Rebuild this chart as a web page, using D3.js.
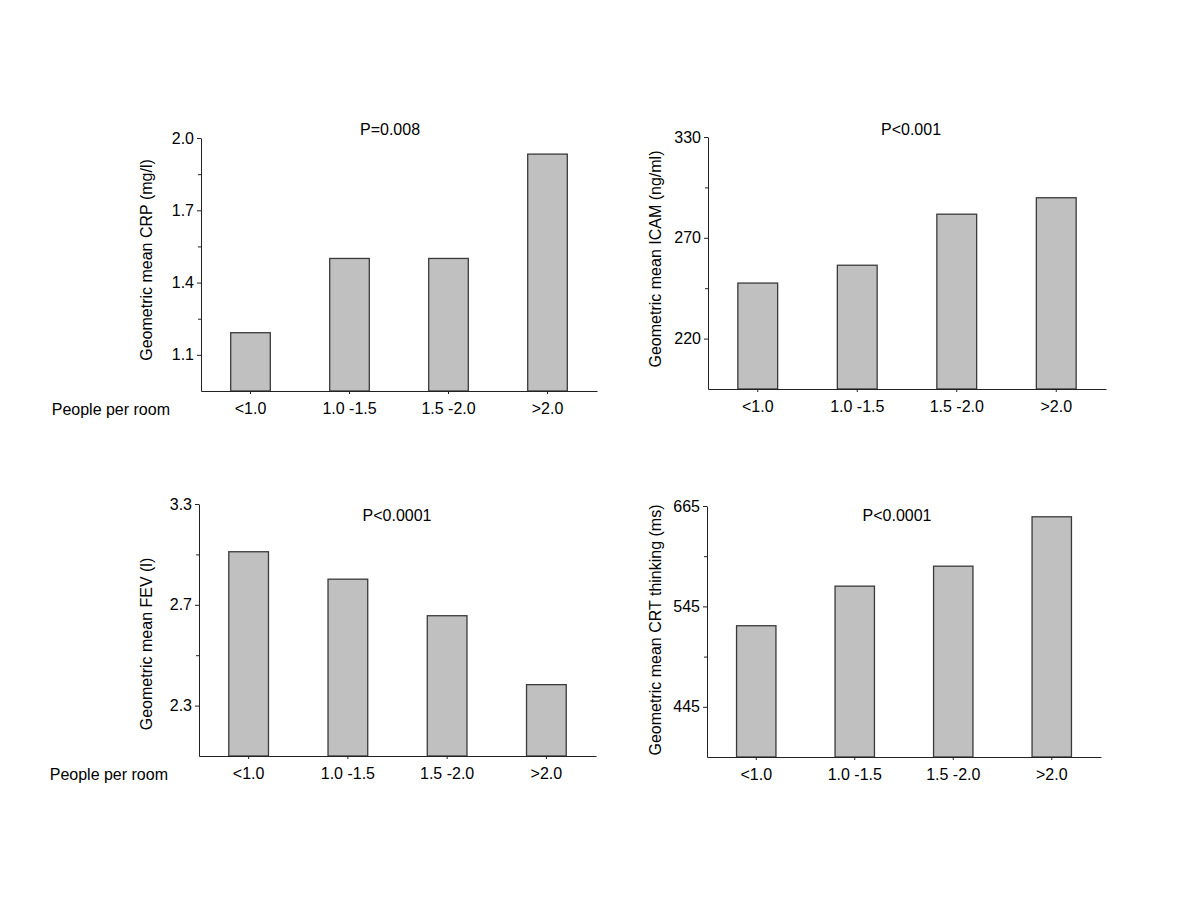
<!DOCTYPE html>
<html>
<head>
<meta charset="utf-8">
<script src="https://cdn.jsdelivr.net/npm/d3@7"></script>
<style>
  body { margin: 0; background: #fff; }
  text { font-family: "Liberation Sans", Arial, sans-serif; font-size: 16px; fill: #000; }
  .axis path, .axis line { stroke: #222; stroke-width: 1; }
  .axis text { font-family: "Liberation Sans", Arial, sans-serif; font-size: 16px; fill: #000; }
</style>
</head>
<body>
<div id="chart"></div>
<script>
// Categories shared by all four panels
const categories = ["<1.0", "1.0 -1.5", "1.5 -2.0", ">2.0"];

// Geometric means
const crpValues = [1.175, 1.443, 1.443, 1.926];
const icamValues = [247.2, 256.1, 283.4, 292.8];
const fevValues = [3.02, 2.86, 2.66, 2.32];
const crtValues = [524, 567, 590, 651];

// Y axes are log scaled; ticks sit at natural-log steps of 0.2
const crpTickLogs = [0.1, 0.3, 0.5, 0.7];
const icamTickLogs = [5.4, 5.6, 5.8];
const fevTickLogs = [0.8, 1.0, 1.2];
const crtTickLogs = [6.1, 6.3, 6.5];

const crpTickLabels = ["1.1", "1.4", "1.7", "2.0"];
const icamTickLabels = ["220", "270", "330"];
const fevTickLabels = ["2.3", "2.7", "3.3"];
const crtTickLabels = ["445", "545", "665"];

// log-domain of each y axis
const crpLogDomain = [0, 0.7];
const icamLogDomain = [5.3, 5.8];
const fevLogDomain = [0.7, 1.2];
const crtLogDomain = [6.0, 6.5];

const yTitles = [
  "Geometric mean CRP (mg/l)",
  "Geometric mean ICAM (ng/ml)",
  "Geometric mean FEV (l)",
  "Geometric mean CRT thinking (ms)"
];
const pTexts = ["P=0.008", "P<0.001", "P<0.0001", "P<0.0001"];
const xTitle = "People per room";

// Layout of each panel on the page
const layout = [
  { left: 201, top: 138, right: 597, bottom: 391, pX: 390, pY: 135, titleX: 146, titleY: 260, xTitle: true },
  { left: 708, top: 137, right: 1106, bottom: 389, pX: 911, pY: 135, titleX: 655, titleY: 259, xTitle: false },
  { left: 199, top: 504, right: 596, bottom: 756, pX: 397, pY: 521, titleX: 146, titleY: 644, xTitle: true },
  { left: 707, top: 506, right: 1101, bottom: 757, pX: 897, pY: 521, titleX: 655, titleY: 630, xTitle: false }
];

const panels = [
  { values: crpValues, logs: crpTickLogs, labels: crpTickLabels, domain: crpLogDomain },
  { values: icamValues, logs: icamTickLogs, labels: icamTickLabels, domain: icamLogDomain },
  { values: fevValues, logs: fevTickLogs, labels: fevTickLabels, domain: fevLogDomain },
  { values: crtValues, logs: crtTickLogs, labels: crtTickLabels, domain: crtLogDomain }
];

const svg = d3.select("#chart")
  .append("svg")
  .attr("width", 1200)
  .attr("height", 900);

panels.forEach((p, i) => {
  const L = layout[i];
  const g = svg.append("g");

  const x = d3.scaleBand()
    .domain(categories)
    .range([L.left, L.right])
    .paddingInner(0.6)
    .paddingOuter(0.3);

  const y = d3.scaleLog()
    .domain(p.domain.map(Math.exp))
    .range([L.bottom, L.top]);

  // Bars
  g.selectAll(".bar")
    .data(p.values)
    .enter().append("rect")
    .attr("class", "bar")
    .attr("x", (d, j) => x(categories[j]))
    .attr("y", d => y(d))
    .attr("width", x.bandwidth())
    .attr("height", d => L.bottom - y(d))
    .style("fill", "#c0c0c0")
    .style("stroke", "#3a3a3a")
    .style("stroke-width", 1.3);

  // Minor ticks halfway between the major ones
  const minors = p.logs.slice(1).map((v, j) => (v + p.logs[j]) / 2);

  g.append("g")
    .attr("class", "axis")
    .attr("transform", `translate(${L.left},0)`)
    .call(d3.axisLeft(y).tickValues(minors.map(Math.exp)).tickFormat("").tickSize(3).tickSizeOuter(0))
    .select(".domain").remove();

  g.append("g")
    .attr("class", "axis")
    .attr("transform", `translate(${L.left},0)`)
    .call(d3.axisLeft(y)
      .tickValues(p.logs.map(Math.exp))
      .tickFormat((d, j) => p.labels[j])
      .tickSize(4)
      .tickSizeOuter(0)
      .tickPadding(3));

  g.append("g")
    .attr("class", "axis")
    .attr("transform", `translate(0,${L.bottom})`)
    .call(d3.axisBottom(x).tickSize(3).tickSizeOuter(0).tickPadding(9));

  // Y title
  g.append("text")
    .attr("transform", `translate(${L.titleX},${L.titleY}) rotate(-90)`)
    .attr("dy", "0.35em")
    .style("text-anchor", "middle")
    .text(yTitles[i]);

  // P value
  g.append("text")
    .attr("x", L.pX)
    .attr("y", L.pY)
    .style("text-anchor", "middle")
    .text(pTexts[i]);

  if (L.xTitle) {
    g.append("text")
      .attr("x", L.left - 31)
      .attr("y", L.bottom + 24)
      .style("text-anchor", "end")
      .text(xTitle);
  }
});
</script>
</body>
</html>
